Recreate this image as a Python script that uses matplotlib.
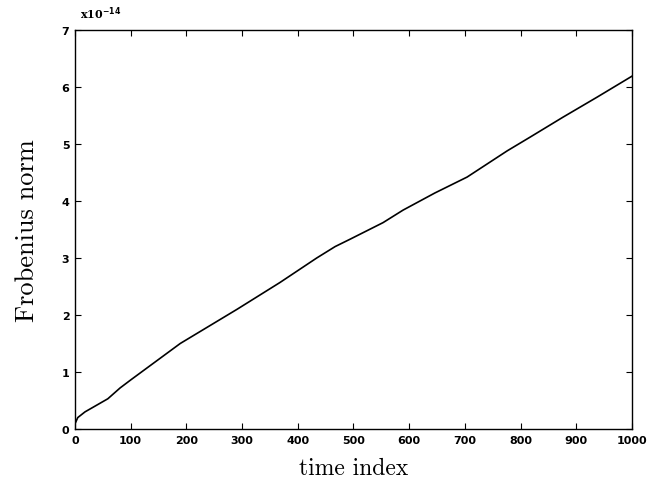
import matplotlib
matplotlib.use("Agg")
import matplotlib.pyplot as plt
import numpy as np

# values (in units of 1e-14)
time_index = [0, 5, 18, 59, 81, 100, 189, 291, 368, 434, 467, 494, 553, 589,
              646, 704, 776, 817, 876, 937, 1000]
frob_norm = [0.09, 0.2, 0.3, 0.53, 0.72, 0.86, 1.5, 2.1, 2.57, 3.0, 3.2, 3.33, 3.62, 3.84,
             4.14, 4.42, 4.88, 5.12, 5.47, 5.82, 6.19]

xticks = [0, 100, 200, 300, 400, 500, 600, 700, 800, 900, 1000]
yticks = [0, 1, 2, 3, 4, 5, 6, 7]

fig = plt.figure(figsize=(6.48, 4.89), dpi=100)
ax = fig.add_axes([0.1157, 0.1207, 0.8596, 0.8159])

ax.plot(time_index, frob_norm, color="black", linewidth=1.2)

ax.set_xlim(0, 1000)
ax.set_ylim(0, 7)
ax.set_xticks(xticks)
ax.set_yticks(yticks)
ax.tick_params(direction="in", top=True, right=True, length=4, width=0.8, pad=4)
for lab in ax.get_xticklabels() + ax.get_yticklabels():
    lab.set_fontfamily("DejaVu Sans")
    lab.set_fontweight("bold")
    lab.set_fontsize(8)
for s in ax.spines.values():
    s.set_linewidth(1.0)

ax.set_xlabel("time index", family="cmr10", fontsize=17, labelpad=9)
ax.set_ylabel("Frobenius norm", family="cmr10", fontsize=19, labelpad=16)

fig.text(0.123, 0.972, r"x10$^{\mathbf{-14}}$", family="DejaVu Serif", fontsize=8,
         fontweight="bold", va="center", ha="left")

fig.savefig("out.png", dpi=100)
